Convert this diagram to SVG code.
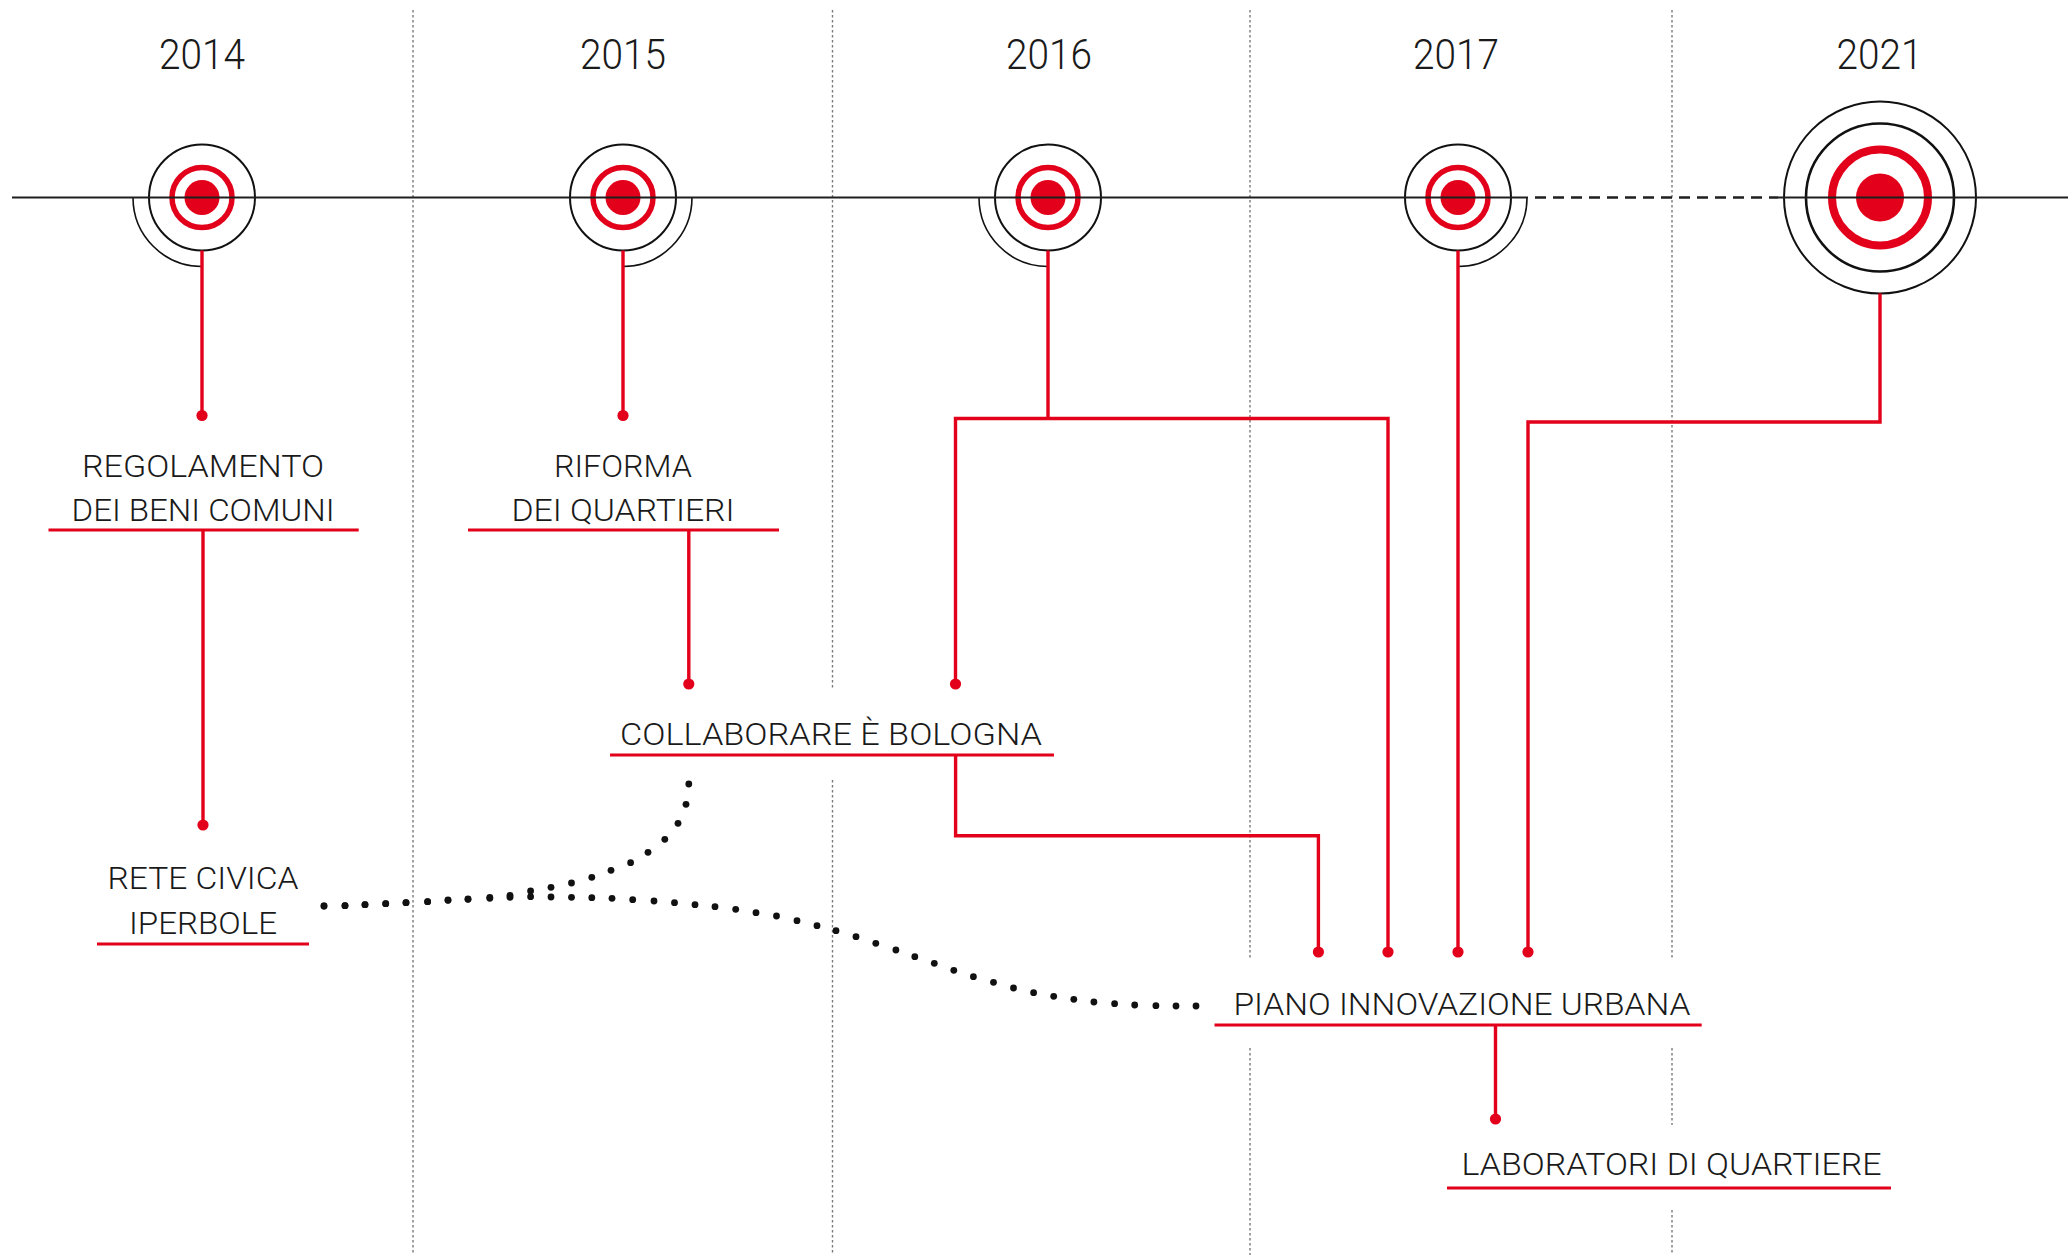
<svg xmlns="http://www.w3.org/2000/svg" width="2068" height="1255" viewBox="0 0 2068 1255">
<style>
.sep{stroke:#7a7a7a;stroke-width:1.4;stroke-dasharray:2.5 2.5;fill:none}
.tl{stroke:#1f1f1f;stroke-width:2;fill:none}
.tld{stroke:#1f1f1f;stroke-width:2.4;stroke-dasharray:11 7;fill:none}
.ring{fill:none;stroke:#111;stroke-width:2}
.ring2{fill:none;stroke:#111;stroke-width:2.6}
.arc{fill:none;stroke:#111;stroke-width:1.6}
.rring{fill:none;stroke:#e2001a;stroke-width:5.5}
.rring2{fill:none;stroke:#e2001a;stroke-width:8}
.rdot{fill:#e2001a}
.red{fill:none;stroke:#e2001a;stroke-width:3.4;marker-end:url(#rd)}
.red0{fill:none;stroke:#e2001a;stroke-width:3.4}
.red2{fill:none;stroke:#e2001a;stroke-width:3.4;marker-start:url(#rd);marker-end:url(#rd)}
.ul{stroke:#e2001a;stroke-width:3.2}
.yr{font-family:Roboto,"Liberation Sans",Arial,sans-serif;font-weight:300;font-size:42px;fill:#1a1a1a;text-anchor:middle}
.lb{font-family:Roboto,"Liberation Sans",Arial,sans-serif;font-weight:300;font-size:32px;fill:#1a1a1a;text-anchor:middle}
.dots{fill:none;stroke:none;marker-start:url(#bd);marker-mid:url(#bd);marker-end:url(#bd)}
</style>
<defs>
<marker id="rd" markerUnits="userSpaceOnUse" markerWidth="14" markerHeight="14" refX="7" refY="7" overflow="visible"><circle cx="7" cy="7" r="5.6" fill="#e2001a"/></marker>
<marker id="bd" markerUnits="userSpaceOnUse" markerWidth="8" markerHeight="8" refX="4" refY="4" overflow="visible"><circle cx="4" cy="4" r="3.4" fill="#111"/></marker>
</defs>
<rect width="2068" height="1255" fill="#fff"/>

<g id="separators">
<path class="sep" d="M413,10V1255"/>
<path class="sep" d="M832.5,10V690M832.5,780V1255"/>
<path class="sep" d="M1250,10V958M1250,1048V1255"/>
<path class="sep" d="M1672,10V958M1672,1048V1125M1672,1210V1255"/>
</g>

<g id="years">
<text class="yr" x="202" y="69" textLength="86" lengthAdjust="spacingAndGlyphs">2014</text>
<text class="yr" x="623" y="69" textLength="86" lengthAdjust="spacingAndGlyphs">2015</text>
<text class="yr" x="1049" y="69" textLength="86" lengthAdjust="spacingAndGlyphs">2016</text>
<text class="yr" x="1456" y="69" textLength="86" lengthAdjust="spacingAndGlyphs">2017</text>
<text class="yr" x="1879.5" y="69" textLength="86" lengthAdjust="spacingAndGlyphs">2021</text>
</g>

<g id="t2014">
<circle class="ring" cx="202" cy="197.5" r="53"/>
<circle class="rring" cx="202" cy="197.5" r="30"/>
<circle class="rdot" cx="202" cy="197.5" r="17.5"/>
<path class="arc" d="M133,197.5A69,69 0 0 0 202,266.5"/>
</g>
<g id="t2015">
<circle class="ring" cx="623" cy="197.5" r="53"/>
<circle class="rring" cx="623" cy="197.5" r="30"/>
<circle class="rdot" cx="623" cy="197.5" r="17.5"/>
<path class="arc" d="M623,266.5A69,69 0 0 0 692,197.5"/>
</g>
<g id="t2016">
<circle class="ring" cx="1048" cy="197.5" r="53"/>
<circle class="rring" cx="1048" cy="197.5" r="30"/>
<circle class="rdot" cx="1048" cy="197.5" r="17.5"/>
<path class="arc" d="M979,197.5A69,69 0 0 0 1048,266.5"/>
</g>
<g id="t2017">
<circle class="ring" cx="1458" cy="197.5" r="53"/>
<circle class="rring" cx="1458" cy="197.5" r="30"/>
<circle class="rdot" cx="1458" cy="197.5" r="17.5"/>
<path class="arc" d="M1458,266.5A69,69 0 0 0 1527,197.5"/>
</g>
<g id="t2021">
<circle class="ring" cx="1880" cy="197.5" r="96"/>
<circle class="ring2" cx="1880" cy="197.5" r="74"/>
<circle class="rring2" cx="1880" cy="197.5" r="48"/>
<circle class="rdot" cx="1880" cy="197.5" r="24"/>
</g>

<g id="timeline">
<path class="tl" d="M12,197.5H1528"/>
<path class="tld" d="M1535,197.5H1778"/>
<path class="tl" d="M1778,197.5H2068"/>
</g>

<g id="connectors">
<path class="red" d="M202,250.5V415.5"/>
<path class="red" d="M623,250.5V415.5"/>
<path class="red0" d="M1048,250.5V418.5"/>
<path class="red2" d="M955.5,684V418.5H1388V952"/>
<path class="red" d="M1458,250.5V952"/>
<path class="red" d="M1880,293.5V422H1528V952"/>
<path class="red" d="M203,530V825"/>
<path class="red" d="M688.8,530V684"/>
<path class="red" d="M955.6,755V835.7H1318.4V952"/>
<path class="red" d="M1495.5,1025V1119"/>
<path class="dots" d="M324,906L345,905.7L365,904.7L385.7,903.7L406,902.7L427.6,901.7L448,900L468,899L489.8,897.3L510,895.3L530.6,891L551,887.3L571.5,883L591.8,877.3L611,870.3L630.6,862.7L648,852.3L664.8,839.3L678,823.3L686,804.3L688.8,784"/>
<path class="dots" d="M324,906L345,905.7L365,904.7L385.7,903.7L406,902.7L427.6,901.7L448,900.3L468,899.3L489.8,898.3L510,897.3L530.6,896.7L551,897L571.5,897.3L591.8,897.7L612,898.3L632.7,899.7L654,901L674.5,902.7L695,904.7L715,906.7L735.7,909.3L756,912.7L776.5,916L797,920.7L817,925.7L836,930.7L856,936.7L875.8,943.3L895.9,950L914.8,956.7L934.3,963.3L953.8,970.3L973.4,976.7L993.5,982.3L1013.5,988L1033.6,992.7L1053.7,996.3L1073.8,999.3L1093.9,1002L1114.6,1003.7L1134.7,1005L1155.9,1005.7L1176,1006L1196,1006"/>
</g>

<g id="regolamento">
<text class="lb" x="203" y="477" textLength="242" lengthAdjust="spacingAndGlyphs">REGOLAMENTO</text>
<text class="lb" x="203" y="521" textLength="263" lengthAdjust="spacingAndGlyphs">DEI BENI COMUNI</text>
<path class="ul" d="M48.5,530H358.7"/>
</g>
<g id="riforma">
<text class="lb" x="623" y="477" textLength="138" lengthAdjust="spacingAndGlyphs">RIFORMA</text>
<text class="lb" x="623" y="521" textLength="223" lengthAdjust="spacingAndGlyphs">DEI QUARTIERI</text>
<path class="ul" d="M468,530H779"/>
</g>
<g id="collaborare">
<text class="lb" x="831" y="745" textLength="422" lengthAdjust="spacingAndGlyphs">COLLABORARE È BOLOGNA</text>
<path class="ul" d="M610,755H1054"/>
</g>
<g id="retecivica">
<text class="lb" x="203" y="889" textLength="191" lengthAdjust="spacingAndGlyphs">RETE CIVICA</text>
<text class="lb" x="203" y="934" textLength="148" lengthAdjust="spacingAndGlyphs">IPERBOLE</text>
<path class="ul" d="M97,944H309"/>
</g>
<g id="piano">
<text class="lb" x="1462" y="1015" textLength="457" lengthAdjust="spacingAndGlyphs">PIANO INNOVAZIONE URBANA</text>
<path class="ul" d="M1214.5,1025H1701.7"/>
</g>
<g id="laboratori">
<text class="lb" x="1671.6" y="1175" textLength="420" lengthAdjust="spacingAndGlyphs">LABORATORI DI QUARTIERE</text>
<path class="ul" d="M1447,1188H1891"/>
</g>
</svg>
